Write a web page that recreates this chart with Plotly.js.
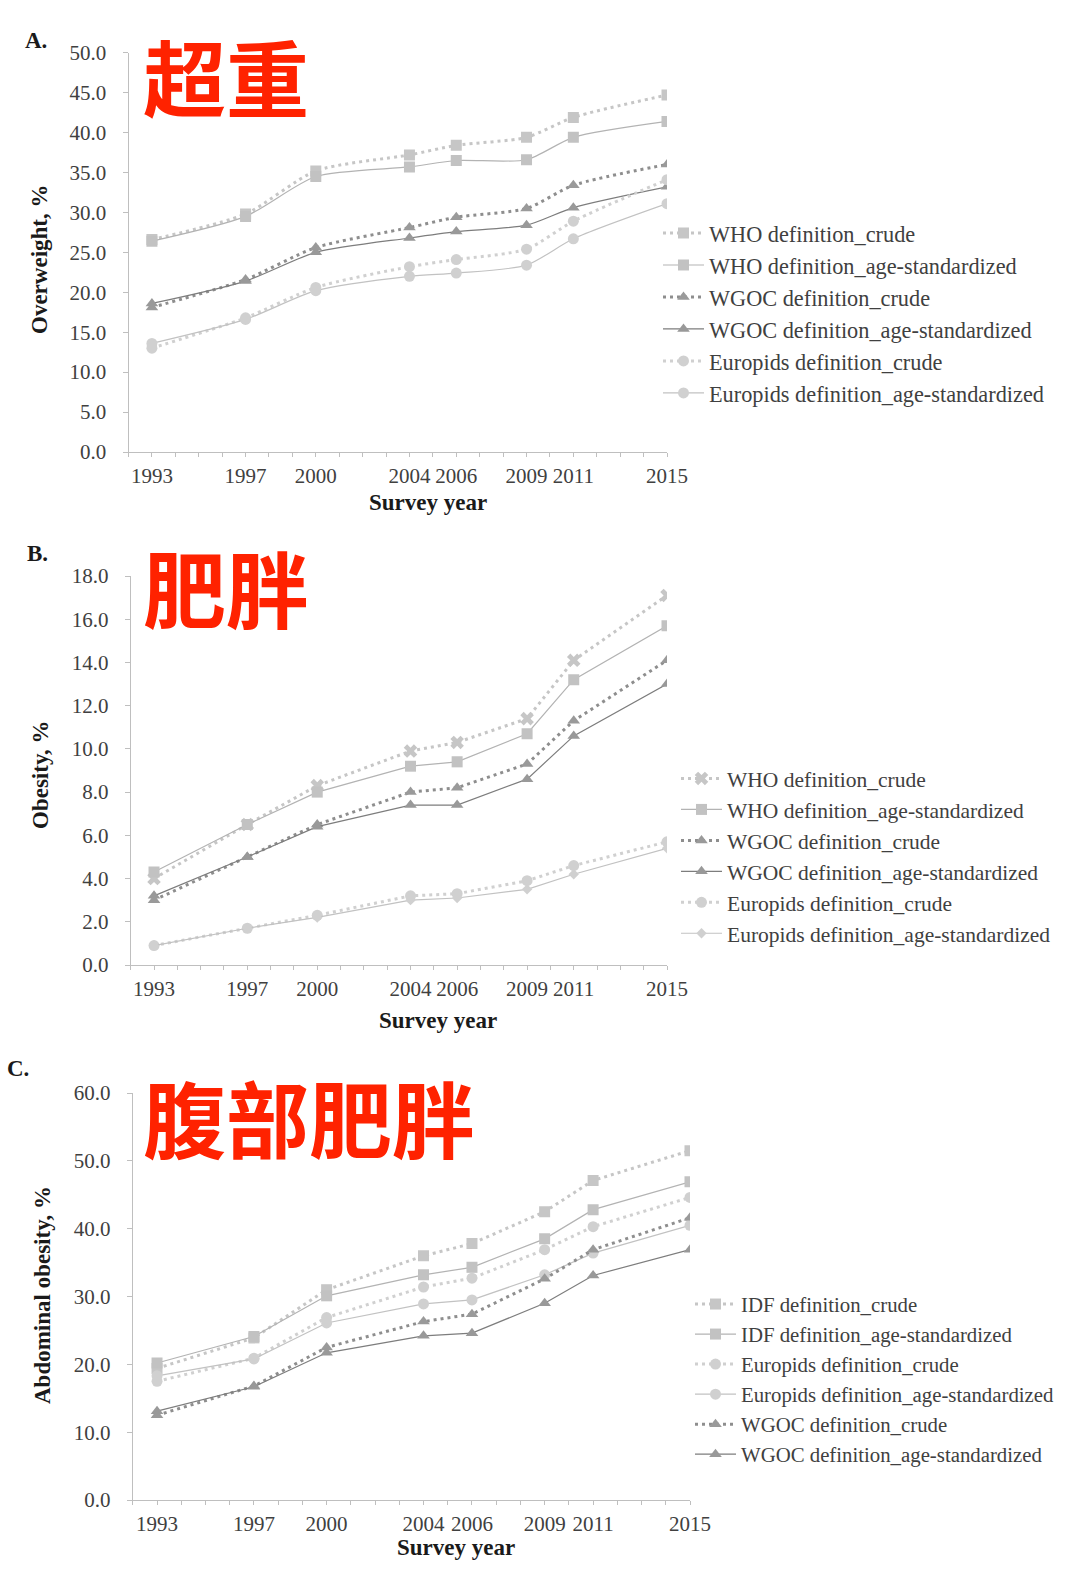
<!DOCTYPE html>
<html>
<head>
<meta charset="utf-8">
<script src="https://cdn.plot.ly/plotly-3.0.1.min.js"></script>
<style>
  html, body { margin: 0; padding: 0; background: #fff; }
  #chart { width: 1074px; height: 1572px; }
</style>
</head>
<body>
<div id="chart"></div>
<script>
// survey years (x values) and every year for the tick marks
const years = [1993, 1997, 2000, 2004, 2006, 2009, 2011, 2015];
const allYears = [];
for (let y = 1992; y <= 2015; y++) allYears.push(y);
const yearLabels = allYears.map(y => years.includes(y) ? String(y) : '');

// A. Overweight, %
const owWhoCrude  = [26.6, 29.8, 35.2, 37.2, 38.4, 39.4, 41.9, 44.7];
const owWhoStd    = [26.4, 29.5, 34.5, 35.7, 36.5, 36.6, 39.4, 41.4];
const owWgocCrude = [18.1, 21.6, 25.6, 28.1, 29.4, 30.5, 33.4, 36.0];
const owWgocStd   = [18.6, 21.4, 25.0, 26.8, 27.6, 28.4, 30.6, 33.2];
const owEuroCrude = [13.0, 16.8, 20.6, 23.2, 24.1, 25.4, 28.9, 34.1];
const owEuroStd   = [13.6, 16.6, 20.2, 22.0, 22.4, 23.4, 26.7, 31.1];

// B. Obesity, %
const obWhoCrude  = [4.0, 6.5, 8.3, 9.9, 10.3, 11.4, 14.1, 17.1];
const obWhoStd    = [4.3, 6.5, 8.0, 9.2, 9.4, 10.7, 13.2, 15.7];
const obWgocCrude = [3.0, 5.0, 6.5, 8.0, 8.2, 9.3, 11.3, 14.1];
const obWgocStd   = [3.2, 5.0, 6.4, 7.4, 7.4, 8.6, 10.6, 13.0];
const obEuroCrude = [0.9, 1.7, 2.3, 3.2, 3.3, 3.9, 4.6, 5.7];
const obEuroStd   = [0.9, 1.7, 2.2, 3.0, 3.1, 3.5, 4.2, 5.4];

// C. Abdominal obesity, %
const abIdfCrude  = [19.4, 23.9, 31.0, 36.0, 37.8, 42.5, 47.1, 51.5];
const abIdfStd    = [20.2, 24.1, 30.1, 33.2, 34.3, 38.5, 42.8, 46.9];
const abEuroCrude = [17.5, 20.9, 26.9, 31.4, 32.7, 36.9, 40.3, 44.6];
const abEuroStd   = [18.3, 20.8, 26.1, 28.9, 29.5, 33.2, 36.4, 40.5];
const abWgocCrude = [12.5, 16.8, 22.5, 26.3, 27.4, 32.6, 36.9, 41.6];
const abWgocStd   = [13.1, 16.7, 21.7, 24.2, 24.6, 29.0, 33.1, 36.9];

const W = 1074, H = 1572;
const px = x => x / W;
const py = y => 1 - y / H;

const serif = 'Liberation Serif, Times New Roman, serif';

// look of each kind of series
const looks = {
    whoCrude:  {line: '#c6c6c6', mark: '#c6c6c6', dash: '3px,4px', width: 3, symbol: 'square', size: 11},
    whoStd:    {line: '#b3b3b3', mark: '#c2c2c2', dash: 'solid', width: 1.2, symbol: 'square', size: 11},
    wgocCrude: {line: '#8e8e8e', mark: '#9a9a9a', dash: '3px,4px', width: 3, symbol: 'triangle-up', size: 11},
    wgocStd:   {line: '#7d7d7d', mark: '#999999', dash: 'solid', width: 1.2, symbol: 'triangle-up', size: 11},
    euroCrude: {line: '#d0d0d0', mark: '#d0d0d0', dash: '3px,4px', width: 3, symbol: 'circle', size: 11},
    euroStd:   {line: '#c2c2c2', mark: '#d0d0d0', dash: 'solid', width: 1.2, symbol: 'circle', size: 11}
};

function makeTrace(name, values, look, axisNo, legendId, shape, symbol, size) {
    return {
        x: years,
        y: values,
        name: name,
        type: 'scatter',
        mode: 'lines+markers',
        xaxis: 'x' + (axisNo > 1 ? axisNo : ''),
        yaxis: 'y' + (axisNo > 1 ? axisNo : ''),
        legend: legendId,
        line: {color: look.line, width: look.width, dash: look.dash, shape: shape, smoothing: 0.7},
        marker: {color: look.mark, symbol: symbol || look.symbol, size: size || look.size}
    };
}

var data = [
    makeTrace('WHO definition_crude', owWhoCrude, looks.whoCrude, 1, 'legend', 'spline'),
    makeTrace('WHO definition_age-standardized', owWhoStd, looks.whoStd, 1, 'legend', 'spline'),
    makeTrace('WGOC definition_crude', owWgocCrude, looks.wgocCrude, 1, 'legend', 'spline'),
    makeTrace('WGOC definition_age-standardized', owWgocStd, looks.wgocStd, 1, 'legend', 'spline'),
    makeTrace('Europids definition_crude', owEuroCrude, looks.euroCrude, 1, 'legend', 'spline'),
    makeTrace('Europids definition_age-standardized', owEuroStd, looks.euroStd, 1, 'legend', 'spline'),

    makeTrace('WHO definition_crude', obWhoCrude, looks.whoCrude, 2, 'legend2', 'linear', 'x', 12),
    makeTrace('WHO definition_age-standardized', obWhoStd, looks.whoStd, 2, 'legend2', 'linear'),
    makeTrace('WGOC definition_crude', obWgocCrude, looks.wgocCrude, 2, 'legend2', 'linear'),
    makeTrace('WGOC definition_age-standardized', obWgocStd, looks.wgocStd, 2, 'legend2', 'linear'),
    makeTrace('Europids definition_crude', obEuroCrude, looks.euroCrude, 2, 'legend2', 'linear'),
    makeTrace('Europids definition_age-standardized', obEuroStd, looks.euroStd, 2, 'legend2', 'linear', 'diamond', 8),

    makeTrace('IDF definition_crude', abIdfCrude, looks.whoCrude, 3, 'legend3', 'linear'),
    makeTrace('IDF definition_age-standardized', abIdfStd, looks.whoStd, 3, 'legend3', 'linear'),
    makeTrace('Europids definition_crude', abEuroCrude, looks.euroCrude, 3, 'legend3', 'linear'),
    makeTrace('Europids definition_age-standardized', abEuroStd, looks.euroStd, 3, 'legend3', 'linear'),
    makeTrace('WGOC definition_crude', abWgocCrude, looks.wgocCrude, 3, 'legend3', 'linear'),
    makeTrace('WGOC definition_age-standardized', abWgocStd, looks.wgocStd, 3, 'legend3', 'linear')
];

function xAxis(left, right, anchor) {
    return {
        domain: [px(left), px(right)],
        anchor: anchor,
        range: [1992, 2015],
        tickmode: 'array',
        tickvals: allYears,
        ticktext: yearLabels,
        ticks: 'outside',
        ticklen: 4,
        tickcolor: '#bfbfbf',
        ticklabelstandoff: 1,
        showline: true,
        linecolor: '#bfbfbf',
        linewidth: 1,
        showgrid: false,
        zeroline: false,
        tickfont: {family: serif, size: 21, color: '#404040'}
    };
}

function yAxis(top, bottom, max, step, anchor) {
    return {
        domain: [py(bottom), py(top)],
        anchor: anchor,
        range: [0, max],
        dtick: step,
        tick0: 0,
        tickformat: '.1f',
        ticks: 'outside',
        ticklen: 5,
        tickcolor: '#bfbfbf',
        ticklabelstandoff: 12,
        showline: true,
        linecolor: '#bfbfbf',
        linewidth: 1,
        showgrid: false,
        zeroline: false,
        tickfont: {family: serif, size: 21, color: '#404040'}
    };
}

function legendAt(left, top, size) {
    return {
        x: px(left),
        y: py(top),
        xanchor: 'left',
        yanchor: 'top',
        bgcolor: 'rgba(0,0,0,0)',
        itemwidth: 41,
        tracegroupgap: 0,
        font: {family: serif, size: size, color: '#404040'}
    };
}

function note(text, x, y, opts) {
    return Object.assign({
        text: text,
        xref: 'paper', yref: 'paper',
        x: px(x), y: py(y),
        xanchor: 'center', yanchor: 'middle',
        showarrow: false,
        font: {family: serif, size: 23, color: '#1a1a1a', weight: 'bold'}
    }, opts || {});
}

const redFont = {family: 'Noto Sans CJK SC, sans-serif', size: 83, color: '#ff2200', weight: 'bold'};

var layout = {
    width: W,
    height: H,
    margin: {l: 0, r: 0, t: 0, b: 0},
    paper_bgcolor: '#ffffff',
    plot_bgcolor: '#ffffff',
    showlegend: true,

    xaxis: xAxis(128.5, 667, 'y'),
    yaxis: yAxis(52.7, 452, 50, 5, 'x'),
    xaxis2: xAxis(130.7, 667, 'y2'),
    yaxis2: yAxis(576, 965, 18, 2, 'x2'),
    xaxis3: xAxis(132.8, 690, 'y3'),
    yaxis3: yAxis(1093, 1500, 60, 10, 'x3'),

    legend: legendAt(658, 212, 22.3),
    legend2: legendAt(676, 758, 21.5),
    legend3: legendAt(690, 1284, 20.8),

    annotations: [
        note('A.', 36, 40),
        note('超重', 141, 75, {xanchor: 'left', font: redFont}),
        note('Overweight, %', 40, 260, {textangle: -90}),
        note('Survey year', 428, 502),

        note('B.', 37, 553),
        note('肥胖', 141, 586, {xanchor: 'left', font: redFont}),
        note('Obesity, %', 40, 775, {textangle: -90}),
        note('Survey year', 438, 1021),

        note('C.', 18, 1068),
        note('腹部肥胖', 141, 1116, {xanchor: 'left', font: redFont}),
        note('Abdominal obesity, %', 42, 1295, {textangle: -90}),
        note('Survey year', 456, 1547)
    ]
};

Plotly.newPlot('chart', data, layout, {staticPlot: true});
</script>
</body>
</html>
